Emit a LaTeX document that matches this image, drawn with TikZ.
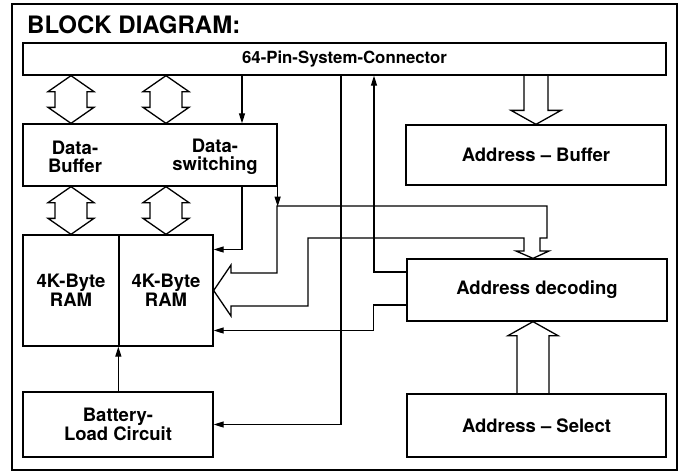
\documentclass[tikz,border=0pt]{standalone}
\usepackage{fontspec}
\setmainfont{TeX Gyre Heros}
\usetikzlibrary{arrows.meta, positioning, calc}

% hollow up/down arrow between two points (top tip, bottom tip)
\newcommand{\dblarrow}[2]{%
  \draw[bus] (#1) -- ($(#1)+(23,16)$) -- ($(#1)+(16,16)$) -- ($(#2)+(16,-16)$)
    -- ($(#2)+(23,-16)$) -- (#2) -- ($(#2)+(-23,-16)$) -- ($(#2)+(-16,-16)$)
    -- ($(#1)+(-16,16)$) -- ($(#1)+(-23,16)$) -- cycle;}

\begin{document}
\begin{tikzpicture}[x=1pt, y=-1pt,
    box/.style={draw, line width=1.3pt, align=center, inner sep=0pt,
      font=\fontsize{18.5}{19}\selectfont\bfseries},
    lbl/.style={align=center, inner sep=0pt, font=\fontsize{18.5}{18}\selectfont\bfseries},
    arr/.style={line width=1.2pt, -{Triangle[length=10pt,width=6pt]}},
    bus/.style={line width=1.3pt, line join=miter}]
        \useasboundingbox (0,0) rectangle (683,475);
        \draw[line width=1.7pt] (12,4) rectangle (677,470);
        \node[anchor=base west, inner sep=0pt, font=\fontsize{24}{26}\selectfont\bfseries] (title) at (27,33) {BLOCK DIAGRAM:};

        \node[box, minimum width=643pt, minimum height=32pt, font=\fontsize{16.8}{18}\selectfont\bfseries] (conn) at (344.5,59) {64-Pin-System-Connector};
        \node[box, minimum width=254pt, minimum height=62pt] (data) at (150,155) {};
        \node[lbl] (dbuf) at (75,157) {Data-\\Buffer};
        \node[lbl] (dsw) at (215,157) {Data-\\switching};
        \node[box, minimum width=96pt, minimum height=111pt] (ram1) at (71,290.5) {4K-Byte\\RAM};
        \node[box, minimum width=94pt, minimum height=111pt] (ram2) at (166,290.5) {4K-Byte\\RAM};
        \node[box, minimum width=190pt, minimum height=65pt] (batt) at (118,424.5) {Battery-\\Load Circuit};
        \node[box, minimum width=260pt, minimum height=60pt] (abuf) at (536,155) {Address – Buffer};
        \node[box, minimum width=260pt, minimum height=62pt] (adec) at (537,290) {Address decoding};
        \node[box, minimum width=259pt, minimum height=63pt] (asel) at (536.5,425.5) {Address – Select};

        % data bus arrows
        \foreach \r in {ram1, ram2} {
            \dblarrow{\r.north |- conn.south}{\r.north |- data.north}
            \dblarrow{\r.north |- data.south}{\r.north}
        }

        % address bus
        \draw[bus] ($(abuf.north |- conn.south)+(-12,0)$) -- ($(abuf.north)+(-12,-14)$) -- ($(abuf.north)+(-25,-14)$)
            -- (abuf.north) -- ($(abuf.north)+(25,-14)$) -- ($(abuf.north)+(12,-14)$) -- ($(abuf.north |- conn.south)+(12,0)$);
        \coordinate (up) at ([xshift=-4pt]adec.south);
        \draw[bus] ($(up |- asel.north)+(-16,0)$) -- ($(up)+(-16,14)$) -- ($(up)+(-25,14)$)
            -- (up) -- ($(up)+(25,14)$) -- ($(up)+(16,14)$) -- ($(up |- asel.north)+(16,0)$);
        \draw[bus] (ram2.east) -- (231,265) -- (231,273) -- (277,273) -- (277,206) -- (547,206) -- (547,238)
            -- (540,238) -- (540,251) -- (549,251) -- ([xshift=-4pt]adec.north) -- (516,251) -- (524,251)
            -- (524,238) -- (308,238) -- (308,306) -- (231,306) -- (231,316) -- cycle;

        % control lines
        \coordinate (sw) at (242,0);
        \coordinate (v1) at (341,0);
        \coordinate (v2) at (374,0);
        \draw[arr] (conn.south -| sw) -- (data.north -| sw);
        \draw[arr] (data.south -| sw) |- ([yshift=41pt]ram2.east);
        \draw[arr] (data.south east) -- ++(0,20);
        \draw[arr] (conn.south -| v1) |- (batt.east);
        \draw[arr] ([yshift=18pt]adec.west) -| (conn.south -| v2);
        \draw[arr] ([yshift=-15pt]adec.west) -- ++(-33,0) |- ([yshift=-40pt]ram2.east);
        \draw[arr] (batt.north -| ram2.west) -- (ram2.south west);
    \end{tikzpicture}
\end{document}
